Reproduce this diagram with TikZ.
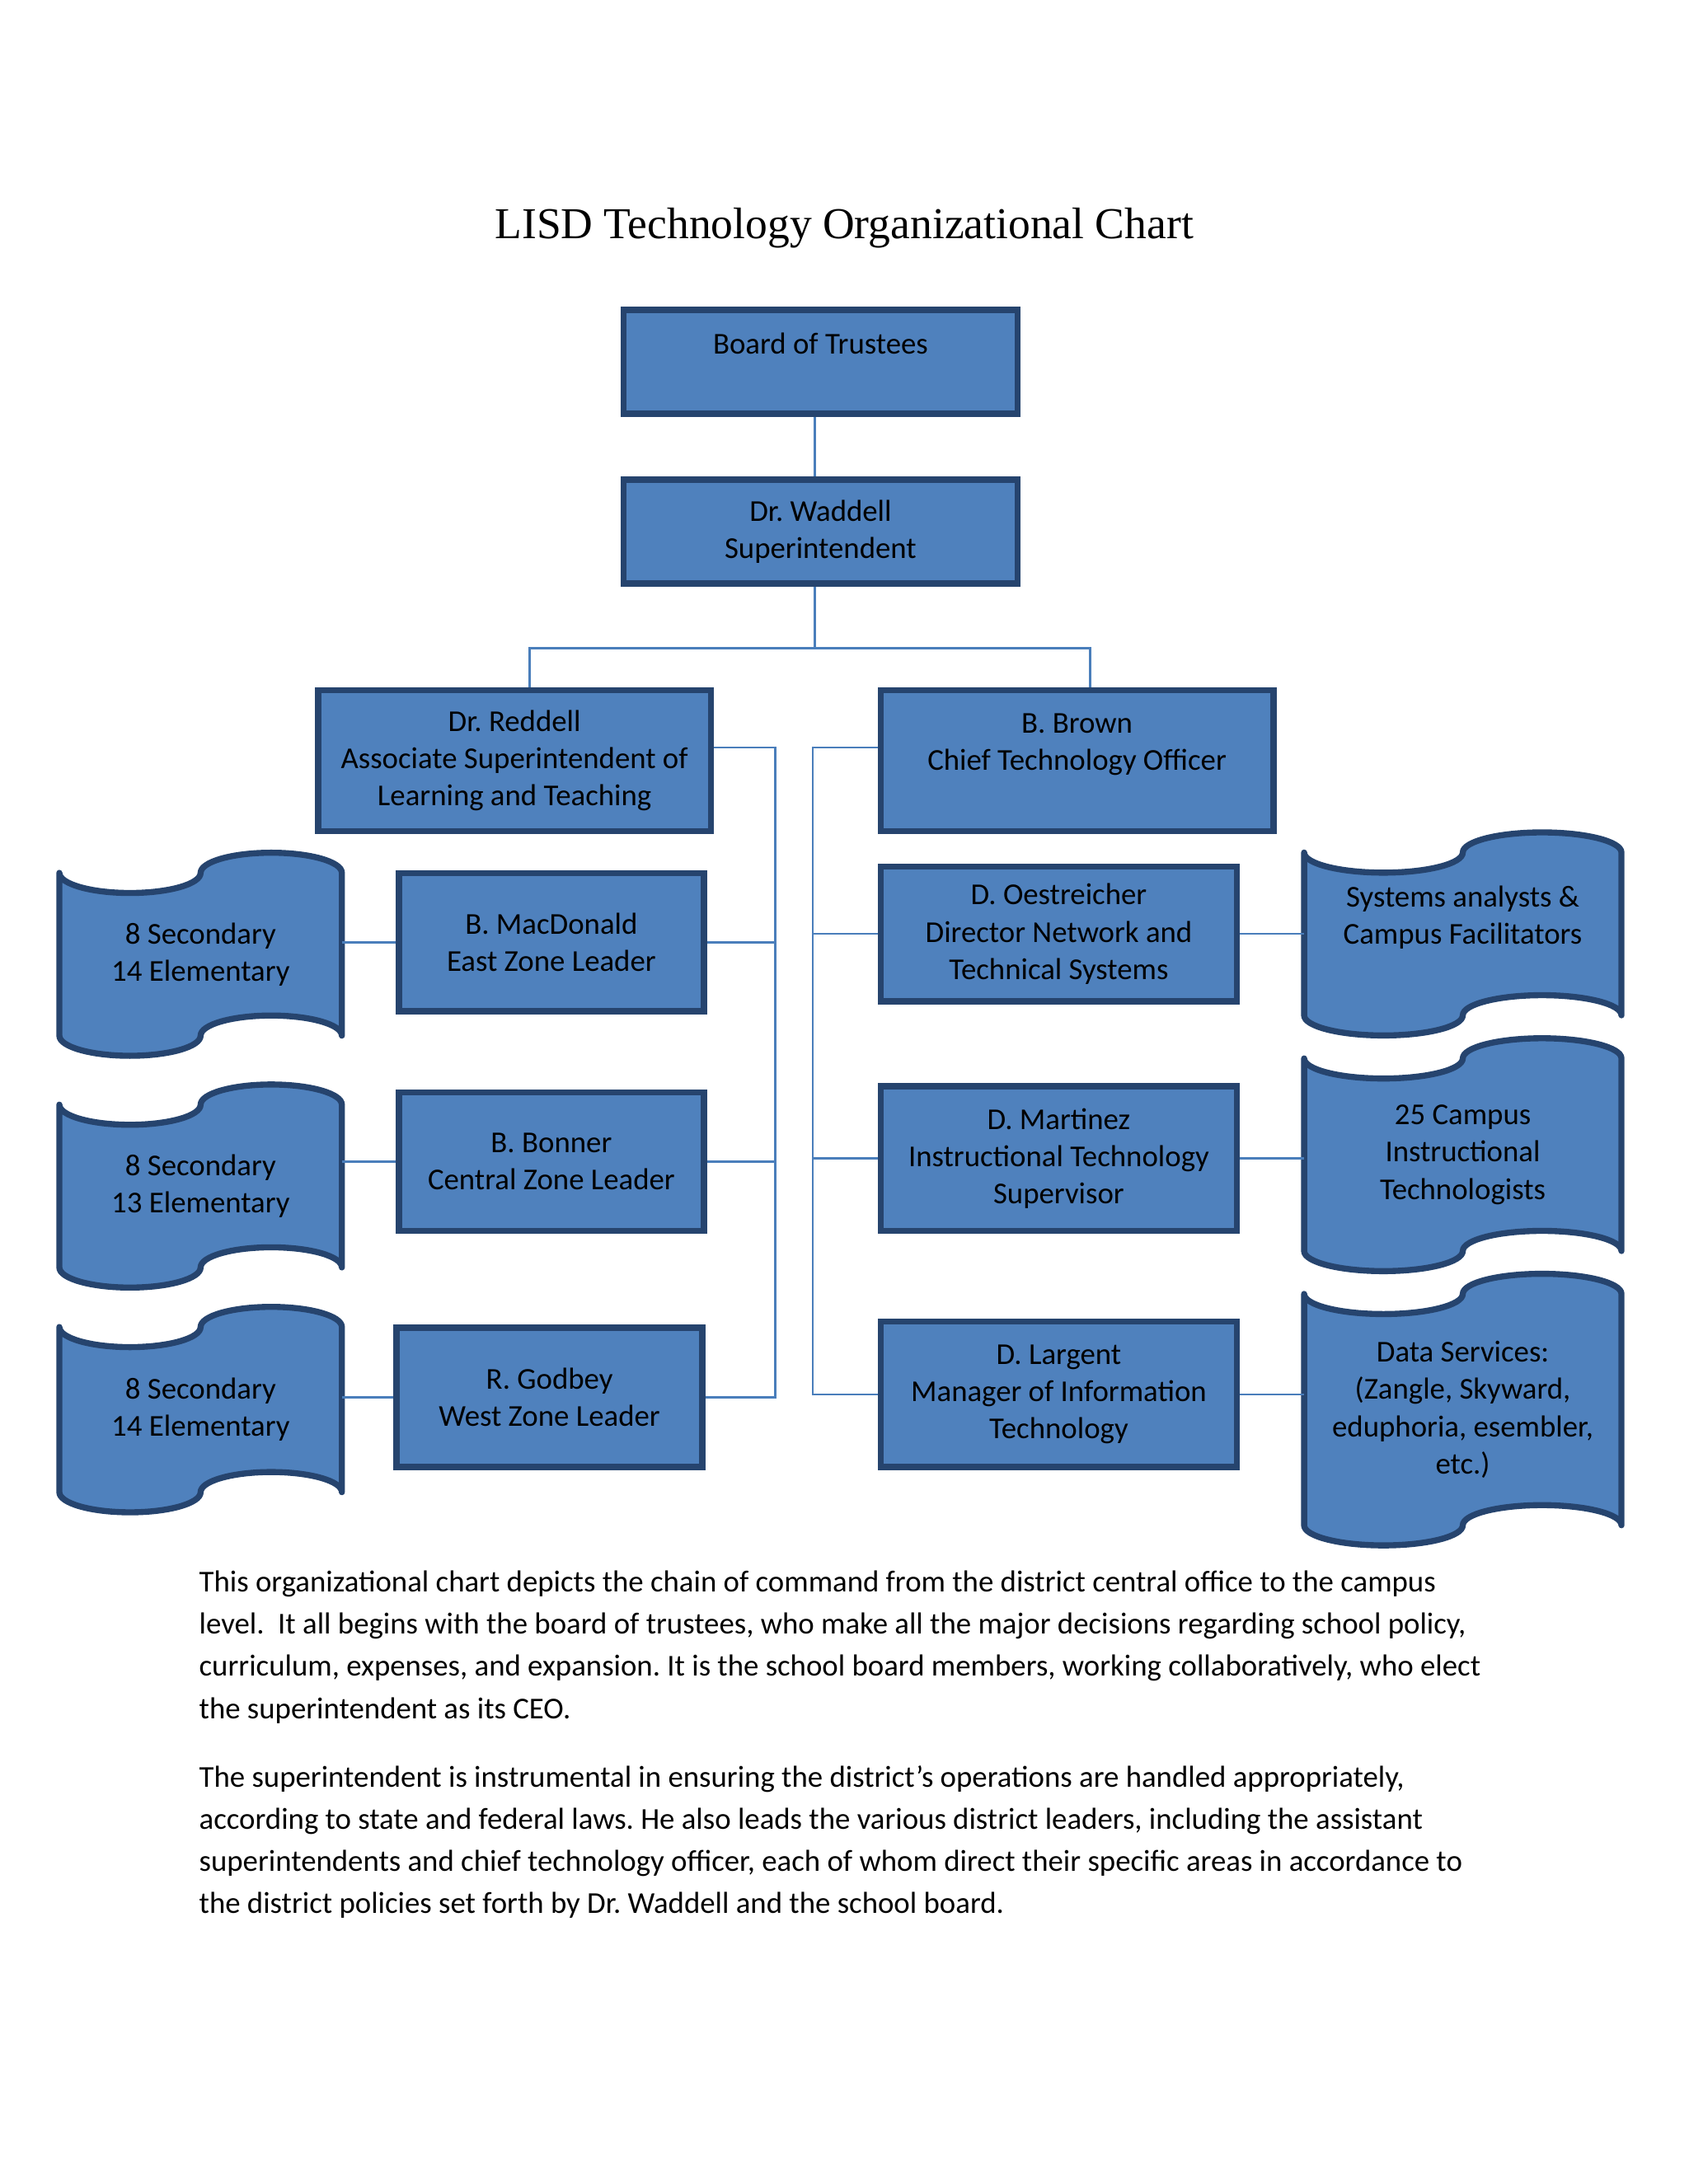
\documentclass[tikz,border=0pt]{standalone}
\usepackage{fontspec}
\setmainfont{Carlito}
\newfontfamily\titlefont{Liberation Serif}
\frenchspacing
\usetikzlibrary{calc,backgrounds}
\definecolor{boxblue}{HTML}{4F81BD}
\definecolor{boxedge}{HTML}{26446E}
\definecolor{linkblue}{HTML}{4A7EBB}
\newcommand\pxu{0.505pt}
% wavy banner drawn behind a named node
\newcommand\tapeshape[1]{%
\begin{scope}[on background layer]
\path[draw=boxedge,fill=boxblue,line width=2.2pt,line join=round]
  let \p1=(#1.north west), \p2=(#1.south east), \n1={(\x2-\x1)/4}, \n2={7.3pt} in
  (\x1,\y1-\n2) arc[start angle=180,end angle=360,x radius=\n1*1pt,y radius=\n2*1pt]
  arc[start angle=180,end angle=0,x radius=\n1*1pt,y radius=\n2*1pt]
  -- (\x2,\y2+\n2) arc[start angle=0,end angle=180,x radius=\n1*1pt,y radius=\n2*1pt]
  arc[start angle=0,end angle=-180,x radius=\n1*1pt,y radius=\n2*1pt] -- cycle;
\end{scope}}

\begin{document}
\begin{tikzpicture}[x=\pxu,y=-\pxu,
  box/.style={draw=boxedge,fill=boxblue,line width=2.2pt,align=center,inner sep=0pt,
    font=\fontsize{11}{13.5}\selectfont},
  tape/.style={align=center,inner sep=0pt,font=\fontsize{11}{13.5}\selectfont},
  link/.style={draw=linkblue,line width=0.75pt},
  para/.style={align=left,inner sep=0pt,font=\fontsize{11}{15.3}\selectfont}]
\useasboundingbox (0,0) rectangle (1212,1568);
\begin{scope}[on background layer]
\fill[white] (0,0) rectangle (1212,1568);
\end{scope}
\node[anchor=base,inner sep=0pt,font=\titlefont\fontsize{16}{19}\selectfont] (T)at(606,171.5){LISD Technology Organizational Chart};
% top of the chart
\node[box,minimum width=283*\pxu,minimum height=74.5*\pxu] (BT)at(589,259.8){Board of Trustees\\~};
\node[box,minimum width=283*\pxu,minimum height=74.6*\pxu] (SU)at(589,381.6){Dr. Waddell\\Superintendent};
\node[box,minimum width=282*\pxu,minimum height=101*\pxu] (AS)at(369.3,546.2){Dr. Reddell\\Associate Superintendent of\\Learning and Teaching};
\node[box,minimum width=282*\pxu,minimum height=101*\pxu] (CT)at(773.1,546.2){B. Brown\\Chief Technology Officer\\~};
% zone leaders
\node[box,minimum width=219*\pxu,minimum height=99.2*\pxu] (EZ)at(395.8,676.5){B. MacDonald\\East Zone Leader};
\node[box,minimum width=219*\pxu,minimum height=99.4*\pxu] (CZ)at(395.8,833.9){B. Bonner\\Central Zone Leader};
\node[box,minimum width=219.4*\pxu,minimum height=100*\pxu] (WZ)at(394.4,1003.2){R. Godbey\\West Zone Leader};
% technology staff
\node[box,minimum width=255.7*\pxu,minimum height=96.8*\pxu] (NT)at(760,670.5){D. Oestreicher\\Director Network and\\Technical Systems};
\node[box,minimum width=255.7*\pxu,minimum height=103.9*\pxu] (IT)at(760,831.7){D. Martinez\\Instructional Technology\\Supervisor};
\node[box,minimum width=255.7*\pxu,minimum height=104.3*\pxu] (MI)at(760,1001){D. Largent\\Manager of Information\\Technology};
% banners
\node[tape,minimum width=202*\pxu,minimum height=145*\pxu] (ES)at(144,685.1){8 Secondary\\14 Elementary};
\node[tape,minimum width=202*\pxu,minimum height=145*\pxu] (CS)at(144,851.5){8 Secondary\\13 Elementary};
\node[tape,minimum width=202*\pxu,minimum height=146.7*\pxu] (WS)at(144,1012){8 Secondary\\14 Elementary};
\node[tape,minimum width=227*\pxu,minimum height=145*\pxu] (SA)at(1050,670.5){Systems analysts \&\\Campus Facilitators\\~};
\node[tape,minimum width=227*\pxu,minimum height=166.4*\pxu] (CI)at(1050,829){25 Campus\\Instructional\\Technologists};
\node[tape,minimum width=227*\pxu,minimum height=194.2*\pxu] (DS)at(1050,1012){Data Services:\\(Zangle, Skyward,\\eduphoria, esembler,\\etc.)};
\tapeshape{ES}
\tapeshape{CS}
\tapeshape{WS}
\tapeshape{SA}
\tapeshape{CI}
\tapeshape{DS}
% connectors
\coordinate (split)at(585,465.3);
\coordinate (lsplit)at(380.3,465.3);
\coordinate (rsplit)at(782.5,465.3);
\coordinate (lbus)at(556.5,536.7);
\coordinate (rbus)at(583.5,536.7);
\begin{scope}[on background layer]
\draw[link] (BT.south -| split) -- (SU.north -| split);
\draw[link] (SU.south -| split) -- (split);
\draw[link] (AS.north -| lsplit) -- (lsplit) -- (rsplit) -- (CT.north -| rsplit);
\draw[link] (AS.east |- lbus) -- (lbus) |- (WZ.east);
\draw[link] (lbus |- EZ.east) -- (EZ.east);
\draw[link] (lbus |- CZ.east) -- (CZ.east);
\draw[link] (CT.west |- rbus) -- (rbus) |- (MI.west);
\draw[link] (rbus |- NT.west) -- (NT.west);
\draw[link] (rbus |- IT.west) -- (IT.west);
\draw[link] (EZ.west) -- (EZ.west -| ES.east);
\draw[link] (CZ.west) -- (CZ.west -| CS.east);
\draw[link] (WZ.west) -- (WZ.west -| WS.east);
\draw[link] (NT.east) -- (NT.east -| SA.west);
\draw[link] (IT.east) -- (IT.east -| CI.west);
\draw[link] (MI.east) -- (MI.east -| DS.west);
\end{scope}
% text below the chart
\node[para,anchor=base west] (P1)at(142.6,1233.7){This organizational chart depicts the chain of command from the district central office to the campus\\
level.~ It all begins with the board of trustees, who make all the major decisions regarding school policy,\\
curriculum, expenses, and expansion. It is the school board members, working collaboratively, who elect\\
the superintendent as its CEO.};
\node[para,anchor=base west] (P2)at(142.6,1373.8){The superintendent is instrumental in ensuring the district’s operations are handled appropriately,\\
according to state and federal laws. He also leads the various district leaders, including the assistant\\
superintendents and chief technology officer, each of whom direct their specific areas in accordance to\\
the district policies set forth by Dr. Waddell and the school board.};
\end{tikzpicture}
\end{document}
